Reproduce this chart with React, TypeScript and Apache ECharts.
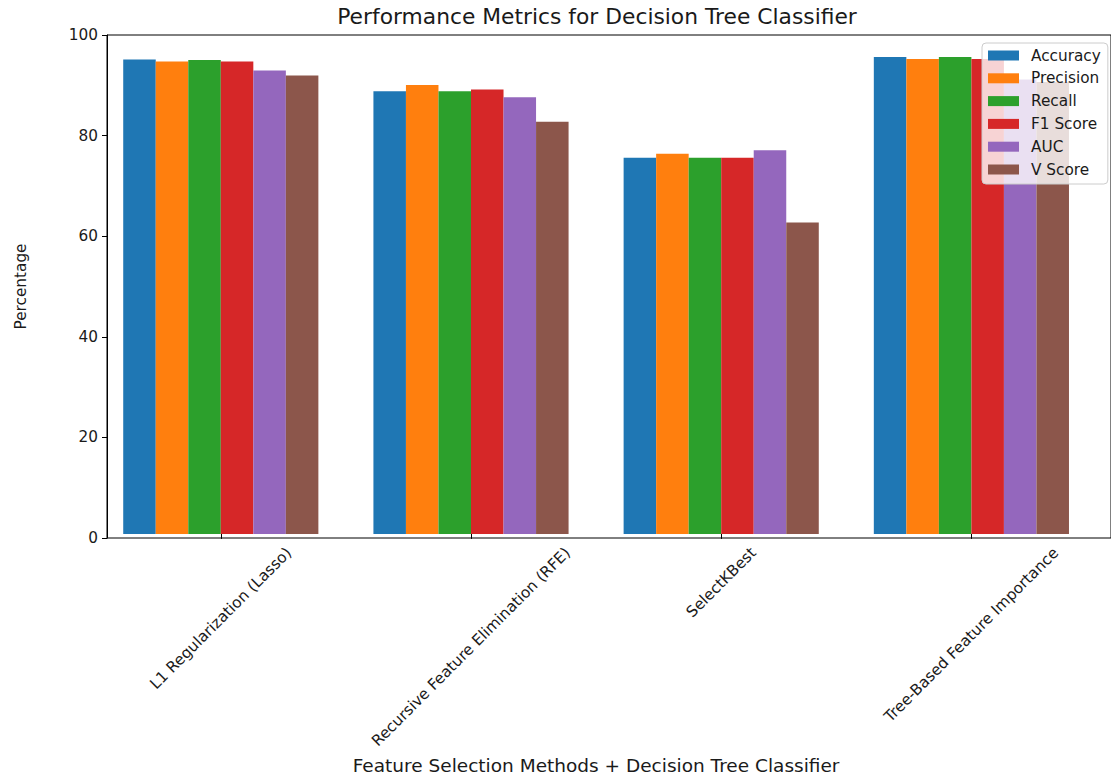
import React, { useEffect, useRef } from "react";
import * as echarts from "echarts";

const categories = [
  "L1 Regularization (Lasso)",
  "Recursive Feature Elimination (RFE)",
  "SelectKBest",
  "Tree-Based Feature Importance",
];
const metricNames = ["Accuracy", "Precision", "Recall", "F1 Score", "AUC", "V Score"];
const accuracy = [95.1, 88.7, 75.4, 95.6];
const precision = [94.7, 90.0, 76.2, 95.2];
const recall = [95.0, 88.7, 75.4, 95.6];
const f1Score = [94.7, 89.1, 75.4, 95.2];
const auc = [92.9, 87.5, 76.9, 91.1];
const vScore = [91.9, 82.6, 62.4, 90.6];
const yMin = 0;
const yMax = 100;
const yInterval = 20;

const seriesValues = [accuracy, precision, recall, f1Score, auc, vScore];
const colors = ["#1f77b4", "#ff7f0e", "#2ca02c", "#d62728", "#9467bd", "#8c564b"];

const FONT = '"DejaVu Sans", sans-serif';
const TICK_SIZE = 15.3;
const TEXT_COLOR = "#1a1a1a";

function measure(t: string): number {
  const ctx = document.createElement("canvas").getContext("2d");
  if (!ctx) return t.length * 8;
  ctx.font = `${TICK_SIZE}px "DejaVu Sans"`;
  return ctx.measureText(t).width;
}

export default function App() {
  const ref = useRef<HTMLDivElement>(null);
  useEffect(() => {
    if (!ref.current) return;
    const chart = echarts.init(ref.current, null, { renderer: "svg" });
    const rich: Record<string, any> = {};
    categories.forEach((c, i) => {
      const w = measure(c);
      const p = 0.5 * (w + 18);
      rich["l" + i] = {
        padding: [p, p, 0, 0],
        fontSize: TICK_SIZE,
        fontFamily: FONT,
        color: TEXT_COLOR,
      };
    });
    chart.setOption({
      animation: false,
      textStyle: { fontFamily: FONT, color: TEXT_COLOR },
      title: {
        text: "Performance Metrics for Decision Tree Classifier",
        left: 597,
        top: 5,
        padding: 0,
        textAlign: "center",
        textStyle: { fontSize: 21.8, fontWeight: "normal", color: TEXT_COLOR, fontFamily: FONT },
      },
      legend: {
        orient: "vertical",
        left: 982,
        top: 43,
        padding: [4, 7, 6, 6],
        itemWidth: 31,
        itemHeight: 10,
        itemGap: 5.8,
        icon: "rect",
        backgroundColor: "rgba(255,255,255,0.8)",
        borderColor: "#cccccc",
        borderWidth: 1,
        borderRadius: 4,
        textStyle: { fontSize: TICK_SIZE, color: TEXT_COLOR, fontFamily: FONT, lineHeight: 17, padding: [0, 0, 0, 7] },
        data: metricNames,
      },
      grid: [
        { left: 107, right: -40, top: 35, bottom: 242, show: true, borderColor: "#000", borderWidth: 1, backgroundColor: "transparent" },
        { left: 95.7, width: 1000.8, top: 35, bottom: 242 },
      ],
      xAxis: [
        { gridIndex: 0, type: "value", min: 0, max: 1, show: false },
        {
          gridIndex: 1,
          type: "category",
          data: categories,
          axisLine: { show: false },
          axisTick: { show: true, alignWithLabel: true, interval: 0, length: 5, lineStyle: { color: "#000" } },
          axisLabel: {
            interval: 0,
            rotate: 45,
            align: "center",
            verticalAlign: "middle",
            margin: 10,
            formatter: (v: string, i: number) => `{l${i}|${v}}`,
            rich,
          },
          name: "Feature Selection Methods + Decision Tree Classifier",
          nameLocation: "middle",
          nameGap: 217,
          nameTextStyle: { fontSize: 18.5, color: TEXT_COLOR, fontFamily: FONT },
        },
      ],
      yAxis: [
        {
          gridIndex: 0,
          type: "value",
          min: yMin,
          max: yMax,
          interval: yInterval,
          axisLine: { show: true, lineStyle: { color: "#000" } },
          axisTick: { show: true, length: 5, lineStyle: { color: "#000" } },
          axisLabel: { fontSize: TICK_SIZE, color: TEXT_COLOR, margin: 9, fontFamily: FONT },
          splitLine: { show: false },
          name: "Percentage",
          nameLocation: "middle",
          nameGap: 79,
          nameTextStyle: { fontSize: TICK_SIZE, color: TEXT_COLOR, fontFamily: FONT },
        },
        { gridIndex: 1, type: "value", min: yMin, max: yMax, show: false },
      ],
      series: metricNames.map((name, k) => ({
        name,
        type: "bar",
        xAxisIndex: 1,
        yAxisIndex: 1,
        barWidth: "13%",
        barGap: "0%",
        itemStyle: { color: colors[k] },
        data: seriesValues[k],
      })),
    });
    return () => chart.dispose();
  }, []);
  return (
    <div
      ref={ref}
      style={{ position: "fixed", left: 0, top: 0, width: 1111, height: 780, background: "#fff" }}
    />
  );
}
